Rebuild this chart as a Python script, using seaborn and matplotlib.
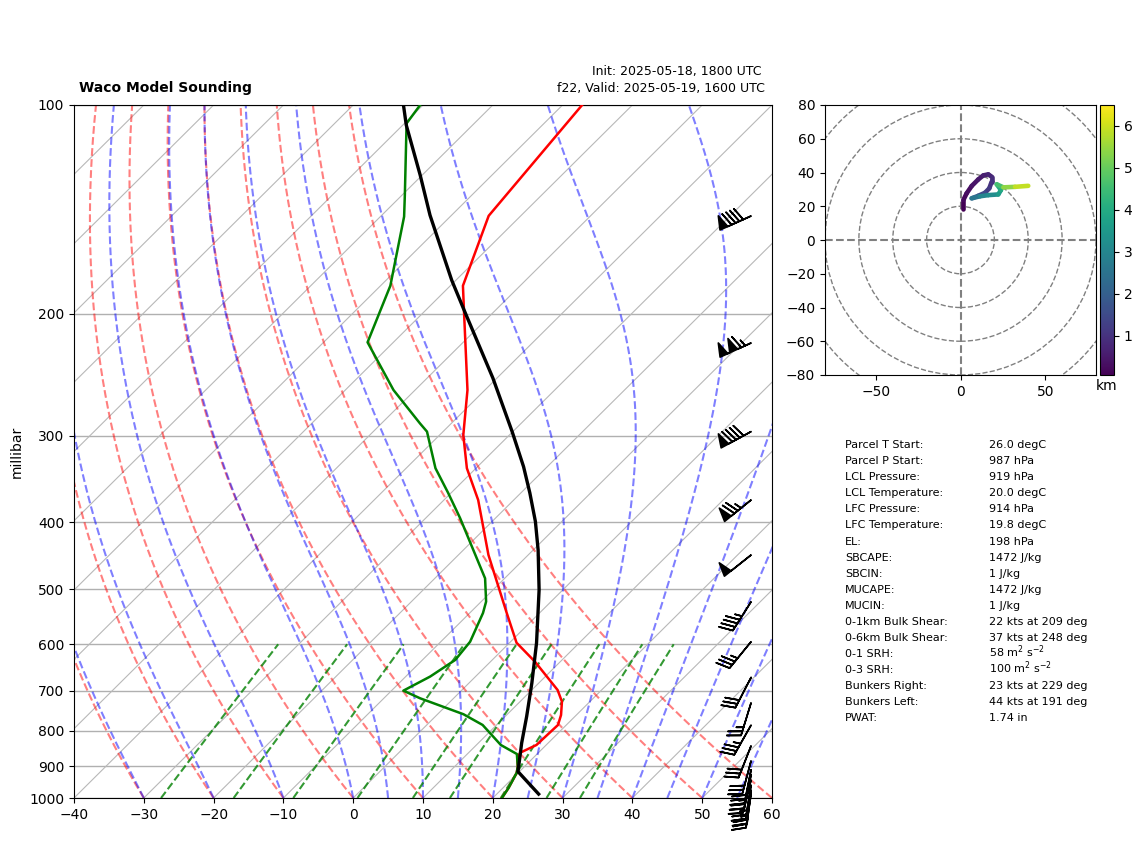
import numpy as np
import matplotlib
matplotlib.use("Agg")
import matplotlib.pyplot as plt
import seaborn as sns
from matplotlib.collections import LineCollection
from matplotlib.colors import Normalize
from matplotlib.cm import ScalarMappable

# sounding profiles
temp_p = [100, 144.5, 182.3, 199.6, 257.8, 299.4, 334.3, 371.5, 445.9, 540.8, 597, 636, 698.5, 726, 759, 784.5, 838.5, 860, 875, 901, 920, 967, 1000]
temp_c = [-67.2, -64.6, -58.2, -54.1, -42.5, -36.6, -31.3, -25.1, -15.7, -4.7, 1.0, 6.4, 13.7, 16.0, 17.8, 18.8, 18.6, 17.4, 17.7, 19.05, 19.8, 20.8, 21.3]
dew_p = [100, 106.3, 134.9, 144.9, 182.3, 220, 257.8, 288, 296, 334.3, 363, 394.4, 482, 520.7, 540.8, 595, 632, 668, 700, 718, 757, 784.5, 838.5, 864, 901, 920, 967, 1000]
dew_c = [-90.4, -89.7, -79.6, -76.6, -68.6, -63.7, -53.1, -44.5, -42.3, -35.8, -30.4, -25.1, -12.8, -9.3, -8.1, -5.8, -5.3, -6.5, -8.3, -4.8, 3.7, 8.0, 13.5, 17.1, 19.05, 19.8, 20.8, 21.3]
parcel_p = [100, 106.9, 126.2, 144.2, 179, 198.7, 247.7, 296, 332.6, 363, 399, 438.6, 500.8, 597.5, 682.4, 763, 833, 916, 987]
parcel_c = [-92.8, -89.5, -80.3, -73.1, -60.6, -54.2, -40.6, -30.1, -23.4, -18.7, -13.8, -9.3, -3.4, 3.9, 9.0, 13.1, 16.2, 19.8, 26.0]

# wind barbs (kts)
barb_p = [144.6, 220.5, 296, 371.5, 446, 521, 595, 670, 729, 785, 841, 884, 911, 926, 942, 958, 974, 987]
barb_u = [82, 105, 79, 58, 39, 24, 22, 14, 8, 17, 11, 8, 6, 5, 5, 4, 3, 3]
barb_v = [37, 48, 43, 47, 31, 38, 27, 27, 26, 30, 28, 30, 30, 25, 20, 25, 25, 20]

# hodograph
hodo_u = [1.7, 1.7, 3.6, 6.6, 10.5, 13.5, 16.4, 18.4, 18.4, 17, 14.5, 10.5, 6.6, 11.5, 16.4, 22.3, 23.9, 21.4, 25.3, 32.2, 40]
hodo_v = [18.2, 23.7, 27.6, 32, 35.9, 38.3, 38.9, 37.5, 34.5, 30.6, 28, 26.2, 24.7, 25.9, 26.6, 27, 29.6, 33, 31.2, 31.5, 32.1]
hodo_h = [0.07, 0.2, 0.32, 0.42, 0.52, 0.62, 0.72, 0.85, 1.0, 1.2, 1.5, 1.9, 2.6, 3.0, 3.2, 3.6, 4.0, 4.6, 5.4, 5.9, 6.5]

# background lines, degC at 1000 hPa
dry_t0 = [-30, -20, -10, 0, 10, 20, 30, 40, 50, 60]
moist_t0 = [-30, -20, -10, 0, 5, 10, 15, 20, 25, 30, 35, 40, 45, 50, 55]
mixing = [0.0004, 0.001, 0.002, 0.004, 0.007, 0.01, 0.016, 0.024, 0.032]

param_names = ["Parcel T Start:", "Parcel P Start:", "LCL Pressure:", "LCL Temperature:", "LFC Pressure:",
               "LFC Temperature:", "EL:", "SBCAPE:", "SBCIN:", "MUCAPE:", "MUCIN:", "0-1km Bulk Shear:",
               "0-6km Bulk Shear:", "0-1 SRH:", "0-3 SRH:", "Bunkers Right:", "Bunkers Left:", "PWAT:"]
param_vals = ["26.0 degC", "987 hPa", "919 hPa", "20.0 degC", "914 hPa", "19.8 degC", "198 hPa", "1472 J/kg",
              "1 J/kg", "1472 J/kg", "1 J/kg", "22 kts at 209 deg", "37 kts at 248 deg",
              "58 m$^2$ s$^{-2}$", "100 m$^2$ s$^{-2}$", "23 kts at 229 deg", "44 kts at 191 deg", "1.74 in"]


def skew(t, p):
    # 45 degree skew: 100 degC per decade of pressure
    return np.asarray(t, dtype=float) + 100 * np.log10(1000 / np.asarray(p, dtype=float))


def sat_mix(t_k, p):
    es = 6.112 * np.exp(17.67 * (t_k - 273.15) / (t_k - 29.65))
    return 0.622 * es / (p - es)


def moist_curve(t0, p):
    t = [t0 + 273.15]
    for i in range(1, len(p)):
        pm = p[i - 1]
        tk = t[-1]
        rs = sat_mix(tk, pm)
        dtdp = (287.0 * tk + 2.5e6 * rs) / (1005.0 + 2.5e6 ** 2 * rs * 0.622 / (287.0 * tk ** 2)) / pm
        t.append(tk + dtdp * (p[i] - pm))
    return np.array(t) - 273.15


fig = plt.figure(figsize=(11.42, 8.41), dpi=100)
W, H = 1142.0, 841.0
ax = fig.add_axes([74 / W, 1 - 798 / H, 698 / W, 693 / H])
ax.set_yscale("log")

# isotherms and isobars
for t in np.arange(-140, 61, 10):
    ax.plot(skew([t, t], [1000, 100]), [1000, 100], color="#b8b8b8", lw=0.8, zorder=1)

fine_p = np.linspace(1000, 100, 901)
for t0 in dry_t0:
    tk = (t0 + 273.15) * (fine_p / 1000) ** 0.2857
    ax.plot(skew(tk - 273.15, fine_p), fine_p, color="r", ls="--", lw=1.5, alpha=0.5, zorder=2)
for t0 in moist_t0:
    ax.plot(skew(moist_curve(t0, fine_p), fine_p), fine_p, color="b", ls="--", lw=1.5, alpha=0.5, zorder=2)

mix_p = np.linspace(1000, 600, 50)
for w in mixing:
    e = mix_p * w / (0.622 + w)
    lg = np.log(e / 6.112)
    ax.plot(skew(243.5 * lg / (17.67 - lg), mix_p), mix_p, color="g", ls="--", lw=1.5, alpha=0.8, zorder=2)

sns.lineplot(x=skew(temp_c, temp_p), y=temp_p, color="r", linewidth=1.8, sort=False, estimator=None, ax=ax, zorder=4)
sns.lineplot(x=skew(dew_c, dew_p), y=dew_p, color="g", linewidth=1.8, sort=False, estimator=None, ax=ax, zorder=4)
sns.lineplot(x=skew(parcel_c, parcel_p), y=parcel_p, color="k", linewidth=2.4, sort=False, estimator=None, ax=ax, zorder=5)

ax.barbs(np.full(len(barb_p), 0.97), barb_p, barb_u, barb_v, transform=ax.get_yaxis_transform(),
         clip_on=False, length=7, linewidth=1.2, color="k", zorder=6)

ax.set_xlim(-40, 60)
ax.set_ylim(1000, 100)
ax.set_xticks(np.arange(-40, 61, 10))
ax.set_yticks(np.arange(100, 1001, 100))
ax.set_yticklabels([str(p) for p in range(100, 1001, 100)])
ax.minorticks_off()
ax.tick_params(axis="both", labelsize=10)
ax.grid(axis="y", color="#b0b0b0", lw=1, zorder=1)
ax.set_axisbelow(True)
ax.set_xlabel("")
ax.set_ylabel("millibar", fontsize=10)

fig.text(79 / W, 1 - 92 / H, "Waco Model Sounding", fontsize=10, fontweight="bold")
fig.text(762 / W, 1 - 75 / H, "Init: 2025-05-18, 1800 UTC", fontsize=9, ha="right")
fig.text(765 / W, 1 - 92 / H, "f22, Valid: 2025-05-19, 1600 UTC", fontsize=9, ha="right")

# hodograph
hax = fig.add_axes([825 / W, 1 - 375 / H, 271 / W, 270 / H])
for r in [20, 40, 60, 80, 100]:
    hax.add_patch(plt.Circle((0, 0), r, fill=False, ls="--", color="gray", lw=1))
hax.axhline(0, color="gray", ls="--", lw=1.5)
hax.axvline(0, color="gray", ls="--", lw=1.5)
norm = Normalize(vmin=min(hodo_h), vmax=max(hodo_h))
pts = np.column_stack([hodo_u, hodo_v])
segs = np.stack([pts[:-1], pts[1:]], axis=1)
lc = LineCollection(segs, cmap="viridis", norm=norm, linewidth=3.3, capstyle="round", zorder=3)
lc.set_array(np.array(hodo_h[:-1]))
hax.add_collection(lc)
hax.set_xlim(-80, 80)
hax.set_ylim(-80, 80)
hax.set_xticks([-50, 0, 50])
hax.set_yticks(np.arange(-80, 81, 20))
hax.tick_params(axis="both", labelsize=10)

cax = fig.add_axes([1100 / W, 1 - 375 / H, 14 / W, 270 / H])
cb = fig.colorbar(ScalarMappable(norm=norm, cmap="viridis"), cax=cax)
cb.set_ticks([1, 2, 3, 4, 5, 6])
cb.ax.tick_params(labelsize=10)
cb.ax.set_xlabel("km", fontsize=10, labelpad=3)

# parcel table
for i, (name, val) in enumerate(zip(param_names, param_vals)):
    y = 448.3 + i * 16.04
    fig.text(845 / W, 1 - y / H, name, fontsize=8)
    fig.text(989 / W, 1 - y / H, val, fontsize=8)

fig.savefig("out.png", dpi=100)
